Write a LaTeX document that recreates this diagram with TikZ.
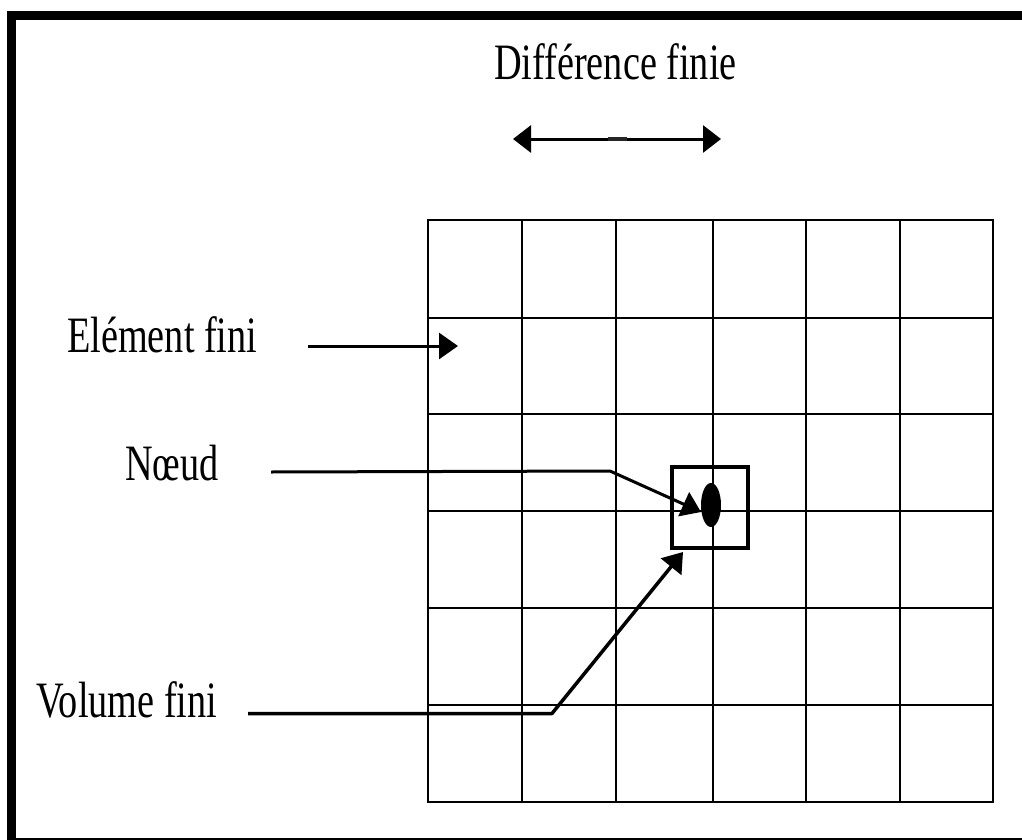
\documentclass[tikz,border=0pt]{standalone}
\usepackage{fontspec}
\setmainfont{Liberation Serif}[FakeStretch=0.75]
\usetikzlibrary{arrows.meta,shapes.geometric}

\tikzset{
  lbl/.style={font=\fontsize{51}{60}\selectfont, inner sep=0pt, anchor=base west},
  gridline/.style={line width=2pt, line cap=rect},
  pointer/.style={line width=3pt, line join=round,
    -{Triangle[length=19pt,width=26pt]}},
  twoway/.style={line width=3pt,
    {Triangle[length=18pt,width=27pt]}-{Triangle[length=18pt,width=27pt]}},
}

\begin{document}
\begin{tikzpicture}[x=1pt, y=-1pt]
\useasboundingbox (0,0) rectangle (1022,840);
\clip (0,0) rectangle (1022,840);

% outer frame (right side runs off the page)
\draw[line width=8.5pt] (11.5,15.5) -- (1040,15.5);
\draw[line width=8.5pt] (11.5,11) -- (11.5,842);
\draw[line width=8pt] (7,842) -- (1040,842);

% 6 x 6 mesh
\foreach \x in {428,522,616,713,806,900,993}
  \draw[gridline] (\x,220) -- (\x,802);
\foreach \y in {220,318,414,511,608,705,802}
  \draw[gridline] (428,\y) -- (993,\y);

% labels
\node[lbl] (df) at (494,80) {Différence finie};
\node[lbl] (ef) at (67,352) {Elément fini};
\node[lbl] (nd) at (125,480) {Nœud};
\node[lbl] (vf) at (36,717) {Volume fini};

% control volume and node
\node[draw, line width=3.5pt, minimum width=76pt, minimum height=81pt,
      inner sep=0pt] (vol) at (710,507.5) {};
\node[ellipse, fill=black, minimum width=20pt, minimum height=44pt,
      inner sep=0pt] (pt) at (711,505) {};

% finite difference span
\coordinate (dl) at (513,139);
\coordinate (dr) at (721,139);
\draw[twoway] (dl) -- (dr);
\draw[line width=4.5pt, black!85] (608,139) -- (627,139);

% element pointer
\coordinate (e0) at (308,346);
\coordinate (e1) at (458,346);
\draw[pointer] (e0) -- (e1);

% node pointer
\coordinate (n0) at (271,472);
\coordinate (n1) at (610,471);
\coordinate (n2) at (701,512);
\draw[pointer] (n0) -- (n1) -- (n2);

% volume pointer
\coordinate (v0) at (248,713.5);
\coordinate (v1) at (552,713.5);
\coordinate (v2) at (683,552);
\draw[pointer, line width=3.5pt] (v0) -- (v1) -- (v2);
\end{tikzpicture}
\end{document}
